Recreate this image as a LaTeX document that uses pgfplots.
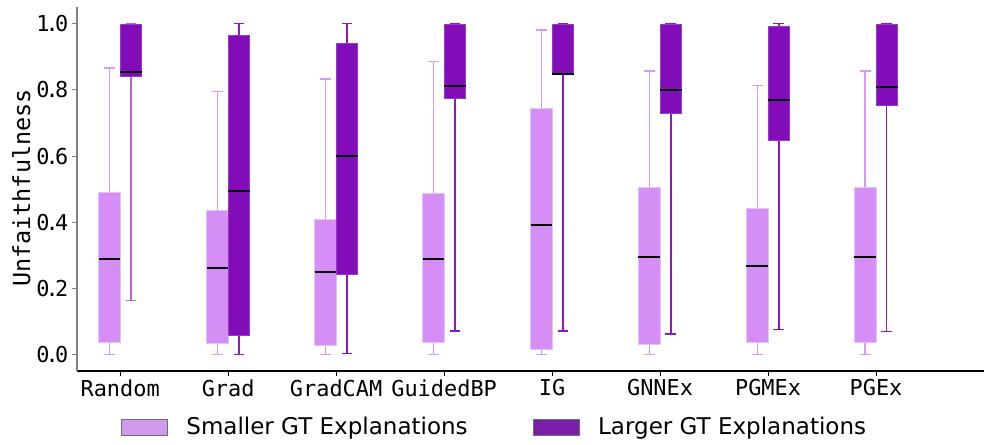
\documentclass[border=0pt]{standalone}
\usepackage{pgfplots}
\pgfplotsset{compat=1.18}
\usepgfplotslibrary{statistics}
\usepackage{fontspec}
\setmainfont{DejaVu Sans}[Scale=1.05]
\setmonofont{DejaVu Sans Mono}
\newfontfamily\labelmono{DejaVu Sans Mono}[Scale=1.07]

\definecolor{lightbox}{RGB}{212,142,245}
\definecolor{lightedge}{RGB}{232,192,250}
\definecolor{lightwhisk}{RGB}{216,150,248}
\definecolor{darkbox}{RGB}{130,12,184}
\definecolor{darkedge}{RGB}{150,60,200}
\definecolor{darkwhisk}{RGB}{140,24,200}
\definecolor{randwhisk}{RGB}{186,96,222}
\definecolor{legl}{RGB}{207,154,235}
\definecolor{legd}{RGB}{122,30,168}
\definecolor{legedge}{RGB}{110,110,110}

\pgfplotsset{
  smallgt/.style={forget plot,
    boxplot/draw direction=y,
    boxplot/box extend=0.2, boxplot/whisker extend=0.1,
    boxplot/every box/.style={fill=lightbox, draw=lightedge, line width=1bp},
    boxplot/every whisker/.style={draw=lightwhisk, line width=1.5bp},
    boxplot/every median/.style={draw=black, line width=2bp}},
  largegt/.style={forget plot,
    boxplot/draw direction=y,
    boxplot/box extend=0.2, boxplot/whisker extend=0.1,
    boxplot/every box/.style={fill=darkbox, draw=darkedge, line width=1bp},
    boxplot/every whisker/.style={draw=#1, line width=1.3bp},
    boxplot/every median/.style={draw=black, line width=2bp}},
  largegt/.default=darkwhisk,
}

% style, position, lower whisker, lower quartile, median, upper quartile, upper whisker
\newcommand{\gtbox}[7]{%
  \addplot[#1, boxplot prepared={draw position=#2,
    lower whisker=#3, lower quartile=#4, median=#5,
    upper quartile=#6, upper whisker=#7}] coordinates {};}

\newcommand{\tl}[2]{#1\kern-3.8bp.\kern-3.8bp#2}

\begin{document}
\begin{tikzpicture}
\begin{axis}[
  name=ax,
  scale only axis,
  width=907bp, height=363.7bp,
  xmin=-0.4, xmax=8.0,
  ymin=-0.05, ymax=1.05,
  axis x line*=bottom,
  axis y line*=left,
  x axis line style={black, line width=1.3bp},
  y axis line style={gray, line width=1.5bp},
  tick align=outside,
  major tick length=5bp,
  x tick style={black, line width=1bp},
  y tick style={gray, line width=1bp},
  xtick={0,1,2,3,4,5,6,7},
  xticklabels={Random,Grad,GradCAM,GuidedBP,IG,GNNEx,PGMEx,PGEx},
  ytick={0,0.2,0.4,0.6,0.8,1},
  yticklabels={\tl00,\tl02,\tl04,\tl06,\tl08,\tl10},
  ticklabel style={font=\fontsize{22}{26}\selectfont\ttfamily},
  ylabel={Unfaithfulness},
  ylabel style={font=\fontsize{22}{26}\selectfont\labelmono,
    at={(axis description cs:-0.0518,0.503)}, anchor=base, inner sep=0pt},
  legend columns=2,
  legend cell align=left,
  legend style={draw=none, fill=none,
    at={(axis description cs:0.4592,-0.154)}, anchor=center,
    font=\fontsize{22}{26}\selectfont,
    /tikz/every even column/.append style={column sep=65bp},
    nodes={inner xsep=0pt, inner ysep=2bp, font=\fontsize{22}{26}\selectfont}},
]

% Smaller GT explanations
\gtbox{smallgt}{-0.1}{0}{0.035}{0.290}{0.489}{0.867}
\gtbox{smallgt}{0.9}{0}{0.033}{0.262}{0.434}{0.796}
\gtbox{smallgt}{1.9}{0}{0.026}{0.250}{0.407}{0.833}
\gtbox{smallgt}{2.9}{0}{0.035}{0.290}{0.486}{0.886}
\gtbox{smallgt}{3.9}{0}{0.016}{0.391}{0.744}{0.982}
\gtbox{smallgt}{4.9}{0}{0.031}{0.294}{0.504}{0.858}
\gtbox{smallgt}{5.9}{0}{0.036}{0.268}{0.442}{0.814}
\gtbox{smallgt}{6.9}{0}{0.035}{0.296}{0.505}{0.858}

% Larger GT explanations
\gtbox{largegt=randwhisk}{0.1}{0.164}{0.841}{0.853}{0.998}{1.0}
\gtbox{largegt}{1.1}{0.0}{0.058}{0.495}{0.965}{1.0}
\gtbox{largegt}{2.1}{0.003}{0.243}{0.599}{0.939}{1.0}
\gtbox{largegt}{3.1}{0.071}{0.774}{0.813}{0.999}{1.0}
\gtbox{largegt}{4.1}{0.071}{0.847}{0.847}{0.999}{1.0}
\gtbox{largegt}{5.1}{0.062}{0.728}{0.800}{0.999}{1.0}
\gtbox{largegt}{6.1}{0.076}{0.648}{0.770}{0.991}{1.0}
\gtbox{largegt}{7.1}{0.070}{0.752}{0.808}{0.999}{1.0}

\addlegendimage{legend image code/.code={
  \draw[fill=legl, draw=legedge, line width=1bp] (0bp,-8bp) rectangle (46bp,8bp);
  \path[draw=none] (46bp,0bp) -- (65bp,0bp);}}
\addlegendentry{Smaller GT Explanations}
\addlegendimage{legend image code/.code={
  \draw[fill=legd, draw=legedge, line width=1bp] (0bp,-8bp) rectangle (46bp,8bp);
  \path[draw=none] (46bp,0bp) -- (65bp,0bp);}}
\addlegendentry{Larger GT Explanations}
\end{axis}
\pgfresetboundingbox
\path ([shift={(-77bp,-73bp)}]ax.south west) rectangle ([shift={(0bp,7.3bp)}]ax.north east);
\end{tikzpicture}
\end{document}
